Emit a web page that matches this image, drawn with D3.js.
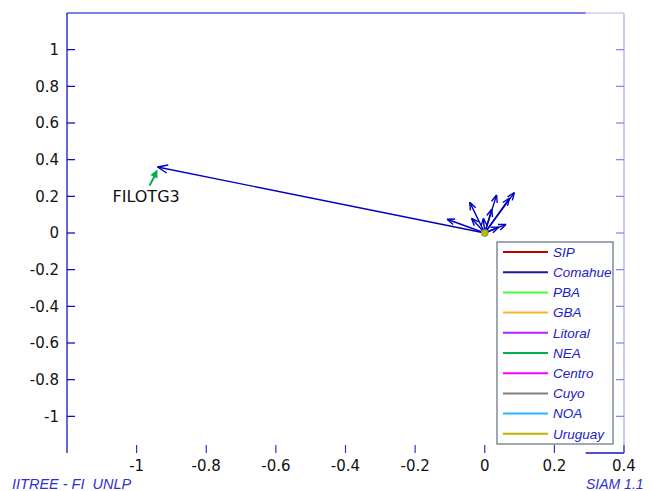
<!DOCTYPE html>
<html>
<head>
<meta charset="utf-8">
<script src="https://cdn.jsdelivr.net/npm/d3@7"></script>
<style>
  body { margin: 0; background: #fff; overflow: hidden; }
  svg { display: block; }
</style>
</head>
<body>
<svg class="chart"></svg>
<script>
// vectors (all start at the origin)
var vecX = [-0.94, 0.085, 0.071, 0.034, 0.02, -0.043, -0.108, -0.038, -0.004, 0.061, 0.04];
var vecY = [0.36, 0.22, 0.19, 0.207, 0.13, 0.167, 0.075, 0.08, 0.08, 0.047, 0.032];
var labelText = "FILOTG3";

var xTicks = [-1, -0.8, -0.6, -0.4, -0.2, 0, 0.2, 0.4];
var yTicks = [1, 0.8, 0.6, 0.4, 0.2, 0, -0.2, -0.4, -0.6, -0.8, -1];

var legendNames = ["SIP", "Comahue", "PBA", "GBA", "Litoral", "NEA", "Centro", "Cuyo", "NOA", "Uruguay"];
var legendColors = ["#c00000", "#1a1aa0", "#40ff40", "#ffb030", "#b020ff", "#00b050", "#ff00ff", "#808080", "#20b8ff", "#c0b000"];

window.onload = function() {
	var W = 652, H = 491;
	var margin = {top: 13, right: 28, bottom: 38, left: 67};
	var x = d3.scaleLinear().domain([-1.2, 0.4]).range([margin.left, W - margin.right]);
	var y = d3.scaleLinear().domain([-1.2, 1.2]).range([H - margin.bottom, margin.top]);

	var svg = d3.select(".chart")
		.attr("width", W)
		.attr("height", H)
		.style("overflow", "visible");

	var font = "'DejaVu Sans', Verdana, sans-serif";
	var italicFont = "'Liberation Sans', Arial, sans-serif";
	var axisBlue = "#0000c0";
	var x0 = x.range()[0], x1 = x.range()[1];
	var y0 = y.range()[0], y1 = y.range()[1];
	var xBreak = x(0.29);

	// frame
	svg.append("line").attr("x1", x0).attr("x2", x0).attr("y1", y1).attr("y2", y0)
		.attr("stroke", axisBlue).attr("stroke-width", 1.2);
	svg.append("line").attr("x1", x0).attr("x2", xBreak).attr("y1", y1).attr("y2", y1)
		.attr("stroke", axisBlue).attr("stroke-width", 1);
	svg.append("line").attr("x1", xBreak).attr("x2", x1).attr("y1", y1).attr("y2", y1)
		.attr("stroke", "#b4b4f0").attr("stroke-width", 1);
	svg.append("line").attr("x1", x1).attr("x2", x1).attr("y1", y1).attr("y2", y0)
		.attr("stroke", "#a8a8ec").attr("stroke-width", 1.2);
	svg.append("line").attr("x1", xBreak).attr("x2", x1).attr("y1", y0).attr("y2", y0)
		.attr("stroke", "#5050c8").attr("stroke-width", 2);

	// y ticks left + right
	svg.selectAll(".ytl").data(yTicks).enter().append("line")
		.attr("x1", x0).attr("x2", x0 + 8)
		.attr("y1", function(d) { return y(d); }).attr("y2", function(d) { return y(d); })
		.attr("stroke", axisBlue).attr("stroke-width", 1.2);
	svg.selectAll(".ytr").data(yTicks).enter().append("line")
		.attr("x1", x1 - 8).attr("x2", x1)
		.attr("y1", function(d) { return y(d); }).attr("y2", function(d) { return y(d); })
		.attr("stroke", "#8080e0").attr("stroke-width", 1.2);
	svg.selectAll(".ylab").data(yTicks).enter().append("text")
		.attr("x", x0 - 8)
		.attr("y", function(d) { return y(d); })
		.attr("dy", "0.36em")
		.attr("text-anchor", "end")
		.attr("font-family", font).attr("font-size", 15).attr("fill", "#111")
		.text(function(d) { return d; });

	// x ticks
	svg.selectAll(".xt").data(xTicks).enter().append("line")
		.attr("x1", function(d) { return x(d); }).attr("x2", function(d) { return x(d); })
		.attr("y1", y0 - 8).attr("y2", y0)
		.attr("stroke", "#3030d0").attr("stroke-width", 1.2);
	svg.selectAll(".xlab").data(xTicks).enter().append("text")
		.attr("x", function(d) { return x(d); })
		.attr("y", y0 + 18)
		.attr("text-anchor", "middle")
		.attr("font-family", font).attr("font-size", 15).attr("fill", "#111")
		.text(function(d) { return d; });

	// arrows
	var arrowColor = "#0000c0";
	function arrow(g, xa, ya, xb, yb, color, len, width) {
		g.append("line").attr("x1", xa).attr("y1", ya).attr("x2", xb).attr("y2", yb)
			.attr("stroke", color).attr("stroke-width", width);
		var ang = Math.atan2(yb - ya, xb - xa);
		[-0.38, 0.38].forEach(function(s) {
			g.append("line").attr("x1", xb).attr("y1", yb)
				.attr("x2", xb - len * Math.cos(ang + s))
				.attr("y2", yb - len * Math.sin(ang + s))
				.attr("stroke", color).attr("stroke-width", width);
		});
	}
	var vg = svg.append("g");
	vecX.forEach(function(vx, i) {
		var L = i === 0 ? 11 : 8;
		arrow(vg, x(0), y(0), x(vx), y(vecY[i]), arrowColor, L, 1.4);
	});

	// origin marker
	svg.append("circle").attr("cx", x(0)).attr("cy", y(0)).attr("r", 3.5)
		.attr("fill", "#c8b400").attr("stroke", "#50a040").attr("stroke-width", 0.8);

	// label pointer for the long vector
	var px = x(vecX[0]), py = y(vecY[0]) + 2.5;
	var tx = px - 8, ty = py + 16;
	svg.append("line").attr("x1", tx).attr("y1", ty).attr("x2", px - 2).attr("y2", py + 5)
		.attr("stroke", "#00b050").attr("stroke-width", 2);
	var ang = Math.atan2(py - ty, px - tx);
	var hl = 9;
	svg.append("path")
		.attr("d", "M" + px + "," + py +
			"L" + (px - hl * Math.cos(ang + 0.45)) + "," + (py - hl * Math.sin(ang + 0.45)) +
			"L" + (px - hl * Math.cos(ang - 0.45)) + "," + (py - hl * Math.sin(ang - 0.45)) + "Z")
		.attr("fill", "#00b050");
	svg.append("text")
		.attr("x", tx - 37).attr("y", ty + 16)
		.attr("font-family", font).attr("font-size", 16).attr("fill", "#111")
		.text(labelText);

	// legend
	var lg = svg.append("g").attr("transform", "translate(497,242)");
	lg.append("rect").attr("width", 116).attr("height", 202)
		.attr("fill", "#fff").attr("stroke", "#607080").attr("stroke-width", 1.2);
	var row = lg.selectAll(".row").data(legendNames).enter().append("g")
		.attr("transform", function(d, i) { return "translate(0," + (10 + i * 20.2) + ")"; });
	row.append("line").attr("x1", 6).attr("x2", 51).attr("y1", 0).attr("y2", 0)
		.attr("stroke", function(d, i) { return legendColors[i]; }).attr("stroke-width", 2);
	row.append("text").attr("x", 56).attr("y", 0).attr("dy", "0.36em")
		.attr("font-family", italicFont).attr("font-size", 13.5).attr("font-style", "italic")
		.attr("fill", "#2020c8")
		.text(function(d) { return d; });

	// footers
	svg.append("text").attr("x", 12).attr("y", H - 2)
		.attr("font-family", italicFont).attr("font-size", 14.5).attr("font-style", "italic")
		.attr("fill", "#3030d0").attr("xml:space", "preserve")
		.text("IITREE - FI  UNLP");
	svg.append("text").attr("x", 586).attr("y", H - 2)
		.attr("font-family", italicFont).attr("font-size", 14).attr("font-style", "italic")
		.attr("fill", "#3030d0")
		.text("SIAM 1.1");
};
</script>
</body>
</html>
